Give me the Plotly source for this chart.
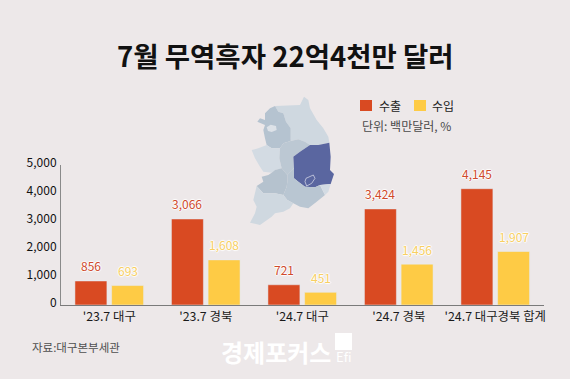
import plotly.graph_objects as go

categories = ["'23.7 대구", "'23.7 경북", "'24.7 대구", "'24.7 경북", "'24.7 대구경북 합계"]
exports = [856, 3066, 721, 3424, 4145]
imports = [693, 1608, 451, 1456, 1907]
y_ticks = [0, 1000, 2000, 3000, 4000, 5000]
y_labels = ["0", "1,000", "2,000", "3,000", "4,000", "5,000"]
title = "7월 무역흑자 22억4천만 달러"
unit = "단위: 백만달러, %"
source = "자료:대구본부세관"
brand = "경제포커스"

BG = "#ede8e9"
RED = "#d94a22"
YEL = "#fecb45"
KR = "Noto Sans CJK KR"
W, H = 570, 379

fig = go.Figure()
fig.add_bar(name="수출", x=categories, y=exports, marker_color=RED, showlegend=False, cliponaxis=False)
fig.add_bar(name="수입", x=categories, y=imports, marker_color=YEL, showlegend=False, cliponaxis=False)


def px(pts):
    out = []
    for i, (a, b) in enumerate(pts):
        x = (200 + a / 3) / W
        y = 1 - (80 + b / 3) / H
        out.append(("M" if i == 0 else "L") + f"{x:.5f},{y:.5f}")
    return " ".join(out) + " Z"


regions = [
    ("#cfd8e0", [(225,78),(300,75),(312,50),(325,60),(330,85),(350,120),(370,145),(385,170),(388,188),(355,195),(330,195),(315,185),(295,178),(272,183),(272,145),(258,125),(250,100),(235,95)]),
    ("#b5c3d0", [(225,78),(235,95),(250,100),(258,125),(272,145),(272,183),(250,190),(240,205),(215,205),(200,195),(195,175),(190,150),(195,135),(172,125),(180,115),(195,120),(195,100),(210,85)]),
    ("#dde2e8", [(200,142),(212,134),(228,138),(230,150),(215,156),(204,153)]),
    ("#d3dbe3", [(155,210),(175,205),(200,195),(215,205),(240,205),(238,235),(245,265),(225,270),(215,278),(190,275),(180,260),(165,235)]),
    ("#bcc8d3", [(240,205),(250,190),(272,183),(295,178),(315,185),(330,195),(300,215),(280,230),(282,265),(262,285),(245,265),(238,235)]),
    ("#5a66a0", [(330,195),(355,195),(388,188),(392,230),(390,270),(402,282),(392,312),(360,315),(345,322),(315,320),(295,305),(282,295),(282,265),(280,230),(300,215)]),
    ("#b5c2ce", [(215,278),(225,270),(245,265),(262,285),(262,305),(260,320),(250,345),(225,340),(190,340),(170,318),(190,305),(185,290),(205,285)]),
    ("#b9c6d2", [(262,305),(262,285),(282,265),(282,295),(295,305),(315,320),(345,322),(360,315),(375,345),(350,365),(325,385),(300,380),(280,370),(262,360),(250,345),(260,320)]),
    ("#d3dbe3", [(360,315),(392,312),(385,335),(375,345)]),
    ("#cfd8e0", [(170,318),(190,340),(225,340),(250,345),(262,360),(280,370),(270,385),(250,395),(225,400),(215,410),(180,435),(150,428),(165,400),(170,380),(160,360)]),
]
shapes = [dict(type="path", xref="paper", yref="paper", path=px(p), fillcolor=c,
               line=dict(width=0), layer="below") for c, p in regions]
shapes.append(dict(type="path", xref="paper", yref="paper",
                   path=px([(318,295),(340,285),(345,295),(335,310),(320,318),(315,305)]),
                   fillcolor="rgba(0,0,0,0)", line=dict(color="#dfe1ee", width=0.7), layer="below"))

# legend keys and the brand's logo block
for color, x0, x1, y0, y1 in ((RED, 360, 372, 100, 111), (YEL, 414, 426, 100, 111), ("#ffffff", 335, 352, 333, 350)):
    shapes.append(dict(type="rect", xref="paper", yref="paper", x0=x0/W, x1=x1/W,
                       y0=1-y1/H, y1=1-y0/H, fillcolor=color, line=dict(width=0)))


def note(text, x, y, size, color, anchor="left"):
    return dict(text=text, x=x/W, y=1-y/H, xref="paper", yref="paper", showarrow=False,
                font=dict(size=size, color=color, family=KR), xanchor=anchor, yanchor="middle")


annotations = [
    note(f"<b>{title}</b>", 285, 55, 27.5, "#111111", "center"),
    note("수출", 377, 105.5, 12, "#222222"),
    note("수입", 430, 105.5, 12, "#222222"),
    note(unit, 360, 125.5, 12, "#4a4a4a"),
    note(source, 30, 347, 11.5, "#4f4f4f"),
    note(f"<b>{brand}</b>", 219, 351, 24, "#ffffff"),
    note("Efi", 334, 356, 13, "#ffffff"),
]

halo = "1px 0 1px #fff, -1px 0 1px #fff, 0 1px 1px #fff, 0 -1px 1px #fff"
for values, color, shift in ((exports, "#cf4a2c", -18.3), (imports, "#f8cf62", 18.3)):
    for cat, v in zip(categories, values):
        annotations.append(dict(text=f"{v:,}", x=cat, y=v, xref="x", yref="y", showarrow=False,
                                xshift=shift, yshift=15, xanchor="center", yanchor="middle",
                                font=dict(size=12, color=color, family=KR, shadow=halo)))

fig.update_layout(
    width=W, height=H, autosize=False,
    margin=dict(l=0, r=0, t=0, b=0),
    paper_bgcolor=BG, plot_bgcolor=BG,
    barmode="group", bargap=0.24, bargroupgap=0.128,
    font=dict(family=KR, color="#222222"),
    shapes=shapes, annotations=annotations,
    xaxis=dict(domain=[61/W, 543.5/W], automargin=False, showgrid=False, showline=True, linecolor="#7a7a7a", linewidth=1,
               ticks="", tickfont=dict(size=12.4, color="#1a1a1a", family=KR), anchor="y", fixedrange=True,
               ticklabelstandoff=0),
    yaxis=dict(domain=[1-305/H, 1-164.7/H], automargin=False, range=[0, 5000], tickvals=y_ticks, ticktext=y_labels,
               showgrid=False, zeroline=False, showline=True, linecolor="#8a8a8a", linewidth=1, ticks="",
               ticklabelshift=-2, ticklabelstandoff=1,
               tickfont=dict(size=12, color="#111111", family=KR), fixedrange=True),
)
fig.write_html("out.html", post_script="document.body.style.margin='0';document.body.style.background='#ede8e9';",
               config={"displayModeBar": False})
